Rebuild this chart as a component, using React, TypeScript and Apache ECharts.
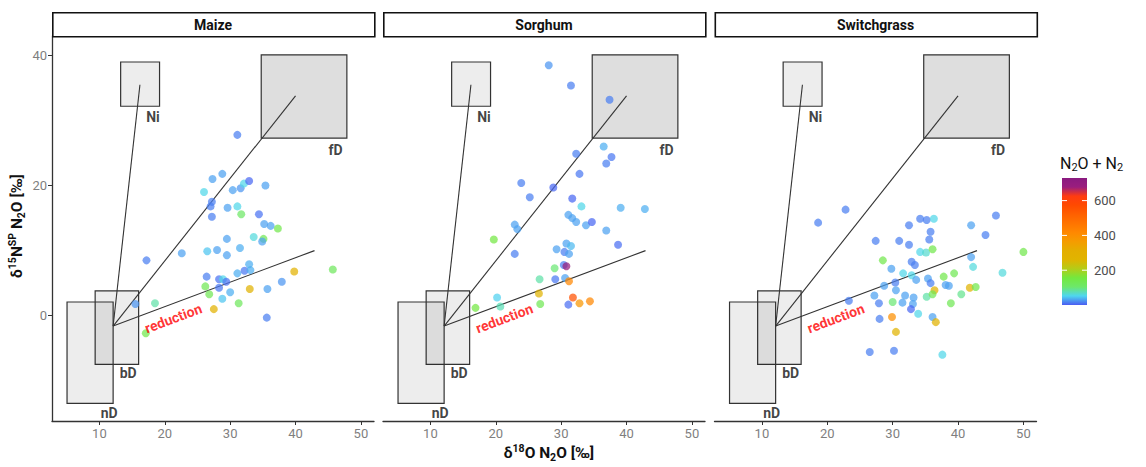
import React, { useEffect, useRef } from 'react';
import * as echarts from 'echarts';

// ---------- data ----------
const facetNames = ['Maize', 'Sorghum', 'Switchgrass'];

const maizeX = [31.1, 27.3, 28.8, 26.0, 30.4, 31.6, 32.1, 32.9, 35.4, 27.2, 27.0, 27.2, 29.6, 31.1, 31.7, 34.4, 35.2, 36.2, 37.3, 29.5, 33.6, 35.1, 34.9, 22.6, 26.5, 28.0, 29.5, 31.5, 17.2, 32.9, 32.2, 33.1, 31.1, 26.4, 28.3, 28.9, 29.4, 39.8, 45.7, 37.9, 26.2, 28.3, 33.0, 35.7, 30.0, 26.8, 28.8, 31.3, 18.5, 15.5, 27.5, 35.6, 17.1];
const maizeY = [27.8, 21.0, 21.8, 19.0, 19.3, 19.6, 20.3, 20.7, 20.0, 17.5, 16.8, 15.2, 16.6, 16.8, 15.6, 15.6, 14.1, 13.8, 13.4, 11.8, 12.1, 11.8, 11.4, 9.6, 9.9, 10.1, 9.3, 10.4, 8.5, 7.9, 6.9, 7.0, 6.5, 6.0, 5.6, 5.6, 5.2, 6.8, 7.1, 5.2, 4.5, 4.3, 4.1, 4.1, 3.6, 3.3, 2.6, 1.9, 1.9, 1.8, 1.0, -0.3, -2.7];
const maizeFlux = [15, 30, 30, 55, 30, 25, 55, 5, 30, 15, 15, 15, 30, 55, 110, 10, 30, 30, 140, 30, 60, 130, 30, 30, 45, 30, 30, 35, 15, 35, 12, 35, 35, 15, 10, 55, 10, 290, 120, 25, 130, 12, 280, 30, 35, 130, 45, 120, 80, 25, 290, 15, 140];

const sorghumX = [28.1, 31.5, 37.4, 36.5, 37.7, 36.9, 32.3, 32.8, 23.9, 28.8, 25.2, 31.7, 33.1, 39.1, 42.8, 31.1, 31.7, 32.3, 33.8, 34.7, 36.9, 22.9, 23.3, 19.7, 38.7, 30.8, 31.5, 29.3, 30.5, 31.2, 22.9, 29.0, 30.4, 30.8, 26.7, 29.1, 30.6, 31.2, 26.6, 20.2, 31.8, 32.8, 34.4, 31.1, 26.8, 20.7, 16.9];
const sorghumY = [38.5, 35.4, 33.2, 26.0, 24.4, 23.4, 24.9, 21.8, 20.4, 19.7, 18.2, 18.0, 16.8, 16.6, 16.4, 15.5, 15.0, 14.4, 13.9, 14.4, 13.1, 14.0, 13.3, 11.7, 10.9, 11.1, 10.7, 10.2, 9.8, 9.5, 9.5, 7.3, 7.8, 7.6, 5.6, 5.6, 5.8, 5.3, 3.4, 2.8, 2.8, 1.9, 2.2, 1.7, 1.8, 1.4, 1.2];
const sorghumFlux = [25, 15, 15, 35, 12, 15, 15, 12, 15, 5, 15, 5, 55, 35, 35, 30, 30, 30, 30, 5, 30, 30, 30, 150, 8, 30, 40, 30, 15, 30, 15, 100, 15, 690, 80, 12, 30, 420, 270, 50, 560, 380, 420, 8, 130, 75, 150];

const switchX = [22.8, 18.6, 45.8, 34.2, 35.2, 36.3, 32.5, 42.0, 35.8, 44.2, 27.4, 31.0, 35.6, 32.5, 34.2, 35.1, 36.1, 42.0, 50.0, 28.5, 32.9, 33.4, 29.8, 31.6, 32.9, 33.6, 35.4, 35.8, 37.8, 39.4, 42.3, 46.8, 28.7, 30.4, 30.5, 27.2, 23.3, 27.9, 30.0, 31.5, 31.9, 33.2, 33.1, 32.8, 33.9, 35.2, 36.4, 36.1, 38.1, 38.6, 40.5, 41.8, 42.7, 38.9, 36.1, 36.6, 28.0, 29.9, 30.5, 26.5, 30.2, 37.6];
const switchY = [16.3, 14.3, 15.4, 14.9, 14.7, 14.9, 13.9, 13.9, 12.9, 12.4, 11.5, 11.5, 11.7, 10.9, 9.8, 9.7, 10.2, 9.0, 9.8, 8.5, 8.3, 7.8, 7.2, 6.5, 6.2, 5.5, 5.7, 5.0, 6.0, 6.5, 7.5, 6.6, 4.6, 5.1, 3.9, 3.1, 2.3, 1.9, 2.1, 2.0, 3.1, 2.8, 1.8, 1.0, 0.3, 2.9, 3.9, 3.3, 4.7, 4.6, 3.3, 4.3, 4.4, 1.9, -0.2, -1.0, -0.5, -0.2, -2.5, -5.6, -5.4, -6.0];
const switchFlux = [15, 15, 15, 15, 15, 55, 15, 30, 15, 15, 15, 15, 15, 15, 55, 65, 140, 30, 140, 140, 15, 15, 30, 55, 55, 30, 30, 15, 140, 130, 60, 60, 30, 15, 30, 30, 15, 15, 100, 30, 30, 30, 30, 5, 55, 80, 280, 130, 30, 30, 90, 270, 140, 130, 30, 280, 15, 400, 270, 15, 15, 55];

const xTicks = [10, 20, 30, 40, 50];
const yTicks = [0, 20, 40];
const legendTicks = [200, 400, 600];

// source boxes
const boxNames = ['Ni', 'fD', 'bD', 'nD'];
const boxX0 = [13.25, 34.75, 9.35, 5.05];
const boxX1 = [19.2, 47.85, 16.0, 12.1];
const boxY0 = [32.2, 27.3, -7.5, -13.5];
const boxY1 = [39.0, 40.1, 3.8, 2.1];
const boxShade = [0.07, 0.13, 0.07, 0.07];

// mixing / reduction lines
const mixPoint = [12.1, -1.6];
const lineEndX = [16.2, 40.0, 42.9];
const lineEndY = [35.5, 33.8, 10.0];

// labels
const labelX = [18.2, 46.1, 14.4, 11.5];
const labelY = [30.6, 25.5, -8.8, -14.9];
const reductionText = 'reduction';
const reductionPos = [21.3, -0.4];

const fluxMin = 0;
const fluxMax = 730;
const cmapColors = ['#4a5cf2', '#4fd6f0', '#6de86a', '#74e83e', '#b4cc18', '#e0b400', '#e4ae00', '#f59c00', '#ff8800', '#ff7400', '#ff6000', '#ff4a00', '#ff3c10', '#9a1e7e', '#8a1a80'];

// ---------- layout ----------
const FONT = 'Roboto, "DejaVu Sans", sans-serif';
const gridLeft = [52, 383, 714.5];
const gridWidth = 322;
const gridTop = 36;
const gridHeight = 385;
const xMin = 2.75, xMax = 52;
const yMin = -16.2, yMax = 43;

const facetData = [
  { xs: maizeX, ys: maizeY, fs: maizeFlux },
  { xs: sorghumX, ys: sorghumY, fs: sorghumFlux },
  { xs: switchX, ys: switchY, fs: switchFlux },
];

export default function App() {
  const ref = useRef<HTMLDivElement>(null);
  useEffect(() => {
    if (!ref.current) return;
    const chart = echarts.init(ref.current, undefined, { renderer: 'svg' });

    const grids: any[] = [];
    const xAxes: any[] = [];
    const yAxes: any[] = [];
    const series: any[] = [];
    const pointSeriesIdx: number[] = [];

    facetData.forEach((fd, i) => {
      grids.push({ left: gridLeft[i], top: gridTop, width: gridWidth, height: gridHeight, containLabel: false });
      xAxes.push({
        gridIndex: i, type: 'value', min: xMin, max: xMax,
        axisLine: { show: true, onZero: false, lineStyle: { color: '#333', width: 1.3 } },
        axisTick: { show: true, customValues: xTicks, length: 4, lineStyle: { color: '#333' } },
        axisLabel: { show: true, customValues: xTicks, color: '#7f7f7f', fontSize: 13, fontFamily: FONT, margin: 6 },
        splitLine: { show: false },
      });
      yAxes.push({
        gridIndex: i, type: 'value', min: yMin, max: yMax,
        axisLine: { show: i === 0, onZero: false, lineStyle: { color: '#333', width: 1.3 } },
        axisTick: { show: i === 0, customValues: yTicks, length: 4, lineStyle: { color: '#333' } },
        axisLabel: { show: i === 0, customValues: yTicks, color: '#7f7f7f', fontSize: 13, fontFamily: FONT, margin: 5 },
        splitLine: { show: false },
      });

      series.push({
        type: 'custom', xAxisIndex: i, yAxisIndex: i, clip: true, z: 1,
        data: boxNames.map((_, k) => [boxX0[k], boxX1[k], boxY0[k], boxY1[k], boxShade[k]]),
        renderItem: (params: any, api: any) => {
          const p0 = api.coord([api.value(0), api.value(3)]);
          const p1 = api.coord([api.value(1), api.value(2)]);
          return {
            type: 'rect',
            shape: { x: p0[0], y: p0[1], width: p1[0] - p0[0], height: p1[1] - p0[1] },
            style: { fill: `rgba(0,0,0,${api.value(4)})`, stroke: '#333', lineWidth: 1.2 },
          };
        },
      });
      series.push({
        type: 'custom', xAxisIndex: i, yAxisIndex: i, clip: true, z: 2,
        data: lineEndX.map((x, k) => [mixPoint[0], mixPoint[1], x, lineEndY[k]]),
        renderItem: (params: any, api: any) => {
          const a = api.coord([api.value(0), api.value(1)]);
          const b = api.coord([api.value(2), api.value(3)]);
          return {
            type: 'line',
            shape: { x1: a[0], y1: a[1], x2: b[0], y2: b[1] },
            style: { stroke: '#333', lineWidth: 1.1 },
          };
        },
      });
      pointSeriesIdx.push(series.length);
      series.push({
        type: 'scatter', xAxisIndex: i, yAxisIndex: i, z: 3,
        symbol: 'circle', symbolSize: 8,
        itemStyle: { opacity: 0.72 },
        data: fd.xs.map((x, k) => [x, fd.ys[k], fd.fs[k]]),
      });
      const labelData: any[] = boxNames.map((n, k) => ({ value: [labelX[k], labelY[k]], name: n }));
      labelData.push({ value: reductionPos, name: reductionText, label: { color: '#ff0000', rotate: 20.5 } });
      series.push({
        type: 'scatter', xAxisIndex: i, yAxisIndex: i, z: 4,
        symbolSize: 0, silent: true,
        label: {
          show: true, position: 'inside', formatter: (p: any) => p.name,
          color: '#111', fontWeight: 'bold', fontSize: 14, fontFamily: FONT,
        },
        data: labelData,
      });
    });

    const graphics: any[] = [];
    facetNames.forEach((name, i) => {
      graphics.push({
        type: 'rect', left: gridLeft[i], top: 12, z: 10,
        shape: { x: 0, y: 0, width: gridWidth, height: 24 },
        style: { fill: '#fff', stroke: '#111', lineWidth: 1.6 },
      });
      graphics.push({
        type: 'text', x: gridLeft[i] + gridWidth / 2, y: 24.5, z: 11,
        style: {
          text: name, fill: '#111', fontSize: 14, fontWeight: 'bold', fontFamily: FONT,
          align: 'center', verticalAlign: 'middle', textAlign: 'center', textVerticalAlign: 'middle',
        },
      });
    });

    const richBase = {
      b: { fontSize: 15.5, fontWeight: 'bold', fontFamily: FONT, fill: '#111', lineHeight: 20 },
      sup: { fontSize: 10.5, fontWeight: 'bold', fontFamily: FONT, fill: '#111', lineHeight: 12, verticalAlign: 'top' },
      sub: { fontSize: 10.5, fontWeight: 'bold', fontFamily: FONT, fill: '#111', lineHeight: 13, verticalAlign: 'bottom' },
    };
    // x title
    graphics.push({
      type: 'text', x: 549, y: 453, z: 11,
      style: {
        text: '{b|δ}{sup|18}{b|O N}{sub|2}{b|O [‰]}', rich: richBase,
        align: 'center', verticalAlign: 'middle', textAlign: 'center', textVerticalAlign: 'middle',
      },
    });
    // y title
    graphics.push({
      type: 'text', x: 17, y: 226, rotation: Math.PI / 2, z: 11,
      style: {
        text: '{b|δ}{sup|15}{b|N}{sup|SP}{b| N}{sub|2}{b|O [‰]}', rich: richBase,
        align: 'center', verticalAlign: 'middle', textAlign: 'center', textVerticalAlign: 'middle',
      },
    });

    // color bar legend
    const cbX = 1062, cbY = 178, cbW = 25, cbH = 127;
    const stops = cmapColors.map((c, k) => ({ offset: k / (cmapColors.length - 1), color: c }));
    graphics.push({
      type: 'rect', left: cbX, top: cbY, z: 10,
      shape: { x: 0, y: 0, width: cbW, height: cbH },
      style: { fill: new echarts.graphic.LinearGradient(0, 1, 0, 0, stops) },
    });
    legendTicks.forEach((v) => {
      const yy = cbY + cbH * (1 - (v - fluxMin) / (fluxMax - fluxMin));
      graphics.push({ type: 'line', z: 11, shape: { x1: cbX, y1: yy, x2: cbX + 5, y2: yy }, style: { stroke: '#fff', lineWidth: 1 } });
      graphics.push({ type: 'line', z: 11, shape: { x1: cbX + cbW - 5, y1: yy, x2: cbX + cbW, y2: yy }, style: { stroke: '#fff', lineWidth: 1 } });
      graphics.push({
        type: 'text', x: cbX + cbW + 7, y: yy, z: 11,
        style: {
          text: String(v), fill: '#4d4d4d', fontSize: 13, fontFamily: FONT,
          align: 'left', verticalAlign: 'middle', textAlign: 'left', textVerticalAlign: 'middle',
        },
      });
    });
    graphics.push({
      type: 'text', x: 1060, y: 163, z: 11,
      style: {
        text: '{n|N}{s|2}{n|O + N}{s|2}',
        rich: {
          n: { fontSize: 16, fontFamily: FONT, fill: '#111', lineHeight: 20 },
          s: { fontSize: 11, fontFamily: FONT, fill: '#111', lineHeight: 13, verticalAlign: 'bottom' },
        },
        align: 'left', verticalAlign: 'middle', textAlign: 'left', textVerticalAlign: 'middle',
      },
    });

    chart.setOption({
      animation: false,
      backgroundColor: '#fff',
      grid: grids,
      xAxis: xAxes,
      yAxis: yAxes,
      visualMap: {
        type: 'continuous', show: false, min: fluxMin, max: fluxMax, dimension: 2,
        seriesIndex: pointSeriesIdx, inRange: { color: cmapColors },
      },
      series,
      graphic: { elements: graphics },
    });
    return () => chart.dispose();
  }, []);
  return <div ref={ref} style={{ position: 'absolute', left: 0, top: 0, width: 1146, height: 467 }} />;
}
